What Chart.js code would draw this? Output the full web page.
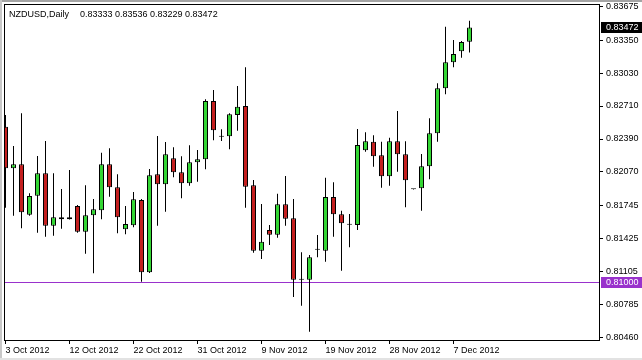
<!DOCTYPE html>
<html><head><meta charset="utf-8">
<script src="https://cdn.jsdelivr.net/npm/chart.js@4.4.0/dist/chart.umd.min.js"></script>
<style>html,body{margin:0;padding:0;background:#fff;overflow:hidden}canvas{display:block}</style>
</head><body>
<canvas id="c" width="642" height="360"></canvas>
<script>
const symbolTitle = 'NZDUSD,Daily';
const dates = ["3 Oct 2012","4 Oct 2012","5 Oct 2012","7 Oct 2012","8 Oct 2012","9 Oct 2012","10 Oct 2012","11 Oct 2012","12 Oct 2012","14 Oct 2012",
"15 Oct 2012","16 Oct 2012","17 Oct 2012","18 Oct 2012","19 Oct 2012","21 Oct 2012","22 Oct 2012","23 Oct 2012","24 Oct 2012","25 Oct 2012",
"26 Oct 2012","28 Oct 2012","29 Oct 2012","30 Oct 2012","31 Oct 2012","1 Nov 2012","2 Nov 2012","4 Nov 2012","5 Nov 2012","6 Nov 2012",
"7 Nov 2012","8 Nov 2012","9 Nov 2012","11 Nov 2012","12 Nov 2012","13 Nov 2012","14 Nov 2012","15 Nov 2012","16 Nov 2012","18 Nov 2012",
"19 Nov 2012","20 Nov 2012","21 Nov 2012","22 Nov 2012","23 Nov 2012","25 Nov 2012","26 Nov 2012","27 Nov 2012","28 Nov 2012","29 Nov 2012",
"30 Nov 2012","2 Dec 2012","3 Dec 2012","4 Dec 2012","5 Dec 2012","6 Dec 2012","7 Dec 2012","9 Dec 2012","10 Dec 2012"];
const opens = [0.82509,0.82106,0.82145,0.81656,0.81840,0.82057,0.81549,0.81631,0.81611,0.81740,
0.81491,0.81650,0.81698,0.82145,0.81922,0.81514,0.81553,0.81798,0.81097,0.82048,
0.81951,0.82203,0.82067,0.81960,0.82164,0.82193,0.82759,0.82412,0.82416,0.82623,
0.82710,0.81941,0.81307,0.81507,0.81462,0.81757,0.81621,0.81025,0.81025,0.81316,
0.81307,0.81827,0.81660,0.81559,0.81556,0.82280,0.82364,0.82232,0.82028,0.82368,
0.82242,0.81902,0.81912,0.82125,0.82445,0.82882,0.83134,0.83241,0.83333];
const highs = [0.82623,0.82322,0.82639,0.81863,0.82225,0.82371,0.82057,0.81905,0.82089,0.81750,
0.81941,0.81808,0.82257,0.82300,0.82048,0.81740,0.81876,0.81808,0.82099,0.82419,
0.82361,0.82310,0.82222,0.82329,0.82283,0.82775,0.82865,0.82484,0.82640,0.82904,
0.83086,0.81992,0.81760,0.81556,0.81859,0.82031,0.81808,0.81291,0.81265,0.81459,
0.82015,0.81970,0.81695,0.81663,0.82487,0.82455,0.82426,0.82364,0.82403,0.82662,
0.82368,0.81905,0.82245,0.82591,0.82930,0.83479,0.83350,0.83341,0.83536];
const lows = [0.81724,0.81646,0.81524,0.81646,0.81481,0.81442,0.81452,0.81520,0.81608,0.81481,
0.81277,0.81087,0.81611,0.81830,0.81475,0.81466,0.81534,0.81006,0.81090,0.81549,
0.81685,0.82019,0.81815,0.81937,0.81976,0.82096,0.82377,0.82371,0.82290,0.82471,
0.81724,0.81287,0.81226,0.81362,0.81433,0.81549,0.80857,0.80773,0.80521,0.81243,
0.81200,0.81442,0.81113,0.81340,0.81507,0.82267,0.82121,0.81918,0.81937,0.82073,
0.81728,0.81900,0.81695,0.81999,0.82364,0.82824,0.83086,0.83179,0.83229];
const closes = [0.82106,0.82145,0.81679,0.81837,0.82057,0.81549,0.81631,0.81611,0.81631,0.81491,
0.81650,0.81708,0.82145,0.81922,0.81631,0.81566,0.81805,0.81097,0.82038,0.81951,
0.82242,0.82067,0.81960,0.82164,0.82193,0.82759,0.82474,0.82412,0.82630,0.82703,
0.81927,0.81307,0.81394,0.81462,0.81757,0.81617,0.81025,0.81025,0.81243,0.81316,
0.81827,0.81660,0.81572,0.81559,0.82332,0.82368,0.82222,0.82028,0.82368,0.82242,
0.81989,0.81902,0.82125,0.82445,0.82882,0.83134,0.83215,0.83330,0.83472];
const xTickIndex = [0,8,16,24,32,40,48,56];
const yTicks = [0.83675,0.83350,0.83030,0.82710,0.82390,0.82070,0.81745,0.81425,0.81105,0.80785,0.80460];
const levelLine = 0.81000;

const GREEN = '#34d634', RED = '#c41f1f', LEVEL = '#9932cc';
const FONT = {family:'Liberation Sans', size:9};
const n = opens.length;
const last = n - 1;
const bodyColors = opens.map((o,i)=> closes[i]>o ? GREEN : (closes[i]<o ? RED : '#000'));

const overlay = {
  id:'overlay',
  beforeDatasetsDraw(chart){
    const {ctx, chartArea:a, scales:{y}} = chart;
    const py = Math.floor(y.getPixelForValue(levelLine));
    ctx.save(); ctx.fillStyle = LEVEL; ctx.fillRect(a.left, py, a.right-a.left, 1); ctx.restore();
  },
  afterDraw(chart){
    const {ctx, chartArea:a, scales:{y}} = chart;
    ctx.save();
    // outer window edges
    ctx.fillStyle='#a4a4a4'; ctx.fillRect(0,0,642,2);
    ctx.fillStyle='#c8c8c8'; ctx.fillRect(0,0,2,360);
    ctx.fillStyle='#e2e2e2'; ctx.fillRect(0,358,642,2);
    // frame
    ctx.strokeStyle='#000'; ctx.lineWidth=1;
    ctx.strokeRect(a.left-0.5, a.top-0.5, a.right-a.left+1, a.bottom-a.top+1);
    ctx.font = '9px "Liberation Sans"';
    ctx.textBaseline='middle'; ctx.textAlign='left';
    // price boxes
    const boxes = [[closes[last], '#000'], [levelLine, LEVEL]];
    boxes.forEach(([v,c])=>{
      const cy = y.getPixelForValue(v);
      const top = Math.round(cy-5.5);
      ctx.fillStyle=c; ctx.fillRect(a.right+2, top, 642-a.right-2, 11);
      ctx.fillStyle='#fff'; ctx.fillText(v.toFixed(5), a.right+7, top+5.5);
    });
    // header
    ctx.fillStyle='#000'; ctx.textBaseline='alphabetic';
    ctx.fillText(symbolTitle, 9, 16.5);
    ctx.fillText([opens[last],highs[last],lows[last],closes[last]].map(v=>v.toFixed(5)).join(' '), 80, 16.5);
    ctx.restore();
  }
};

new Chart(document.getElementById('c'), {
  type:'bar',
  data:{
    datasets:[
      { label:'body', data: opens.map((o,i)=>({x:i, y:[o, closes[i]]})),
        backgroundColor: bodyColors, borderColor:'#000', borderWidth:1, borderSkipped:false,
        barThickness:5, grouped:false, minBarLength:1, inflateAmount:0 },
      { label:'wick', data: lows.map((l,i)=>({x:i, y:[l, highs[i]]})),
        backgroundColor:'#000', borderWidth:0, barThickness:1, grouped:false, inflateAmount:0 }
    ]
  },
  options:{
    responsive:false, animation:false, devicePixelRatio:1,
    layout:{padding:{left:5, top:5, right:0, bottom:0}},
    plugins:{legend:{display:false}, tooltip:{enabled:false}, title:{display:false}},
    scales:{
      x:{ type:'linear', min:-0.0625, max:74.1875, offset:false, bounds:'data',
        grid:{display:true, drawOnChartArea:false, drawTicks:true, tickLength:4, color:'#000', offset:false},
        border:{display:false},
        ticks:{autoSkip:false, maxRotation:0, minRotation:0, align:'start', padding:1, color:'#000', font:FONT,
          callback:(v)=> dates[v] !== undefined ? dates[v] : ''},
        afterBuildTicks:(s)=>{ s.ticks = xTickIndex.map(v=>({value:v})); },
        afterFit:(s)=>{ s.height=20; s.paddingLeft=0; s.paddingRight=0; s.paddingTop=0; s.paddingBottom=0; }
      },
      y:{ type:'linear', position:'right', min:0.80440, max:0.83690, beginAtZero:false, bounds:'data',
        grid:{display:true, drawOnChartArea:false, drawTicks:true, tickLength:4, color:'#000'},
        border:{display:false},
        ticks:{autoSkip:false, padding:3, color:'#000', font:FONT, callback:(v)=>Number(v).toFixed(5)},
        afterBuildTicks:(s)=>{ s.ticks = yTicks.map(v=>({value:v})); },
        afterFit:(s)=>{ s.width=43; s.paddingLeft=0; s.paddingRight=0; s.paddingTop=0; s.paddingBottom=0; }
      }
    }
  },
  plugins:[overlay]
});
</script>
</body></html>
